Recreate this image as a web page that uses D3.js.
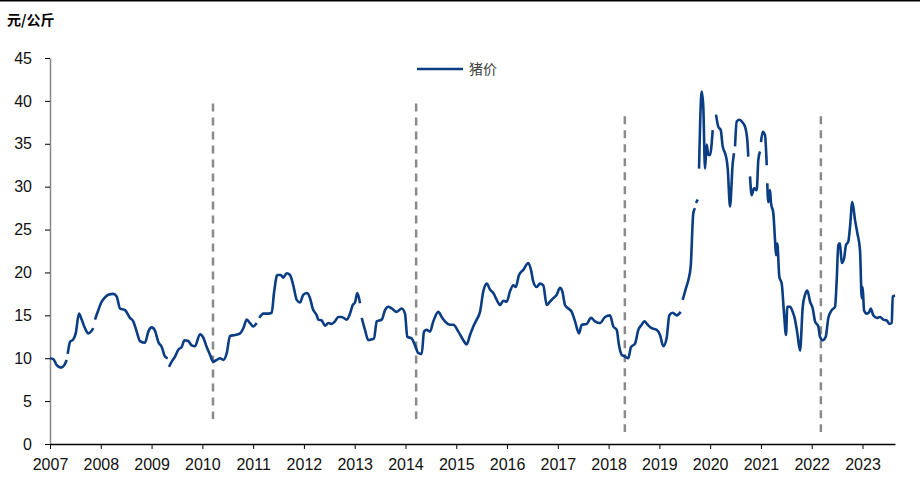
<!DOCTYPE html>
<html>
<head>
<meta charset="utf-8">
<script src="https://cdn.jsdelivr.net/npm/d3@7"></script>
<style>
  body { margin: 0; background: #fff; }
  svg { display: block; font-family: "Liberation Sans", Arial, sans-serif; }
</style>
</head>
<body>
<div id="chart"></div>
<script>
const dates = [
  2007.000, 2007.065, 2007.132, 2007.217, 2007.282, 2007.329, 2007.339, 2007.349, 2007.394, 2007.459,
  2007.506, 2007.571, 2007.624, 2007.689, 2007.754, 2007.807, 2007.853, 2007.870, 2007.886, 2007.951,
  2008.018, 2008.069, 2008.148, 2008.247, 2008.313, 2008.378, 2008.477, 2008.575, 2008.640, 2008.707,
  2008.772, 2008.871, 2008.936, 2009.003, 2009.068, 2009.133, 2009.200, 2009.265, 2009.318, 2009.330,
  2009.343, 2009.397, 2009.462, 2009.527, 2009.594, 2009.645, 2009.723, 2009.790, 2009.855, 2009.954,
  2010.019, 2010.086, 2010.151, 2010.216, 2010.283, 2010.348, 2010.413, 2010.480, 2010.545, 2010.643,
  2010.742, 2010.807, 2010.874, 2010.939, 2011.003, 2011.070, 2011.096, 2011.122, 2011.200, 2011.299,
  2011.366, 2011.411, 2011.476, 2011.543, 2011.594, 2011.661, 2011.726, 2011.791, 2011.858, 2011.923,
  2011.988, 2012.067, 2012.120, 2012.173, 2012.252, 2012.284, 2012.350, 2012.415, 2012.480, 2012.547,
  2012.612, 2012.677, 2012.744, 2012.843, 2012.908, 2012.961, 2013.006, 2013.052, 2013.105, 2013.120,
  2013.138, 2013.203, 2013.268, 2013.335, 2013.380, 2013.434, 2013.532, 2013.597, 2013.662, 2013.729,
  2013.827, 2013.926, 2013.991, 2014.036, 2014.123, 2014.188, 2014.253, 2014.320, 2014.365, 2014.418,
  2014.483, 2014.548, 2014.647, 2014.714, 2014.779, 2014.877, 2014.942, 2015.041, 2015.139, 2015.206,
  2015.271, 2015.336, 2015.403, 2015.468, 2015.533, 2015.600, 2015.665, 2015.730, 2015.797, 2015.862,
  2015.927, 2015.994, 2016.059, 2016.124, 2016.171, 2016.236, 2016.321, 2016.419, 2016.472, 2016.518,
  2016.584, 2016.649, 2016.714, 2016.781, 2016.846, 2016.911, 2016.978, 2017.043, 2017.089, 2017.142,
  2017.207, 2017.274, 2017.339, 2017.418, 2017.471, 2017.569, 2017.654, 2017.733, 2017.831, 2017.930,
  2018.028, 2018.093, 2018.160, 2018.205, 2018.258, 2018.323, 2018.388, 2018.441, 2018.520, 2018.585,
  2018.652, 2018.703, 2018.770, 2018.849, 2018.948, 2019.013, 2019.078, 2019.144, 2019.196, 2019.263,
  2019.341, 2019.420, 2019.440, 2019.459, 2019.525, 2019.570, 2019.617, 2019.668, 2019.702, 2019.712,
  2019.721, 2019.755, 2019.768, 2019.781, 2019.834, 2019.865, 2019.899, 2019.932, 2019.964, 2019.997,
  2020.050, 2020.083, 2020.115, 2020.160, 2020.208, 2020.247, 2020.293, 2020.326, 2020.346, 2020.391,
  2020.444, 2020.470, 2020.480, 2020.490, 2020.523, 2020.574, 2020.621, 2020.686, 2020.732, 2020.751,
  2020.768, 2020.785, 2020.818, 2020.864, 2020.917, 2020.948, 2020.982, 2020.992, 2021.001, 2021.035,
  2021.080, 2021.114, 2021.120, 2021.125, 2021.145, 2021.179, 2021.198, 2021.244, 2021.277, 2021.297,
  2021.322, 2021.362, 2021.409, 2021.455, 2021.494, 2021.519, 2021.573, 2021.626, 2021.671, 2021.717,
  2021.770, 2021.823, 2021.868, 2021.913, 2021.967, 2022.020, 2022.065, 2022.130, 2022.163, 2022.217,
  2022.276, 2022.327, 2022.394, 2022.459, 2022.492, 2022.524, 2022.557, 2022.591, 2022.636, 2022.675,
  2022.721, 2022.754, 2022.799, 2022.853, 2022.898, 2022.951, 2022.985, 2023.004, 2023.030, 2023.083,
  2023.134, 2023.162, 2023.213, 2023.280, 2023.345, 2023.410, 2023.477, 2023.529, 2023.576, 2023.595,
  2023.641
];

// 元/公斤, null = 断点
const prices = [
  10.0, 9.9, 9.2, 8.9, 9.2, 9.8, null, 10.5, 11.9, 12.2,
  12.9, 15.2, 14.5, 13.5, 12.9, 13.1, 13.5, null, 14.5, 15.6,
  16.6, 17.0, 17.4, 17.5, 17.2, 15.8, 15.6, 14.7, 14.3, 13.1,
  12.0, 11.8, 13.1, 13.6, 13.2, 11.9, 11.3, 10.2, 10.0, null,
  9.0, 9.6, 10.2, 11.0, 11.3, 12.1, 12.0, 11.5, 11.4, 12.8,
  12.4, 11.3, 10.4, 9.6, 9.8, 10.0, 9.8, 10.6, 12.6, 12.7,
  12.9, 13.5, 14.5, 14.1, 13.7, 14.1, null, 14.7, 15.2, 15.2,
  15.3, 17.6, 19.7, 19.7, 19.4, 19.9, 19.7, 18.5, 16.8, 16.5,
  17.4, 17.6, 17.0, 15.8, 15.0, 14.5, 14.4, 13.8, 14.1, 14.0,
  14.3, 14.8, 14.8, 14.5, 15.2, 16.2, 16.5, 17.6, 16.4, null,
  14.7, 13.3, 12.1, 12.2, 12.3, 14.3, 14.5, 15.6, 16.0, 15.8,
  15.4, 15.8, 15.2, 12.5, 12.3, 11.5, 10.6, 10.5, 13.1, 13.3,
  13.1, 14.3, 15.4, 14.8, 14.3, 13.9, 13.9, 13.1, 12.1, 11.6,
  12.7, 13.7, 14.5, 15.4, 17.8, 18.7, 18.0, 17.6, 16.8, 16.2,
  16.7, 16.6, 17.8, 18.5, 18.3, 19.7, 20.3, 21.1, 20.3, 18.9,
  18.3, 18.7, 18.5, 16.2, 16.6, 17.0, 17.4, 18.2, 17.8, 16.2,
  15.8, 15.4, 14.3, 12.9, 13.9, 14.0, 14.7, 14.3, 14.1, 14.8,
  15.0, 13.7, 13.3, 11.5, 10.4, 10.2, 10.0, 11.3, 11.7, 13.3,
  13.9, 14.3, 13.9, 13.5, 13.3, 12.7, 11.4, 12.4, 15.0, 15.3,
  15.0, 15.4, null, 16.8, 18.2, 19.1, 20.7, 26.9, 27.5, null,
  28.1, 28.5, null, 32.1, 41.1, 39.3, 32.1, 34.9, 33.7, 33.7,
  36.6, null, 38.4, 37.0, 36.6, 34.7, 33.9, 33.1, 32.1, 27.7,
  32.7, 33.9, null, 34.7, 37.6, 37.8, 37.6, 37.0, 35.4, 33.5,
  null, 31.2, 29.0, 29.8, 29.6, 33.1, 34.1, null, 35.2, 36.4,
  36.0, 32.5, null, 30.4, 28.2, 29.6, 28.1, 26.9, 23.8, 22.0,
  23.4, 19.5, 18.7, 15.2, 12.7, 16.0, 16.0, 15.4, 14.5, 12.9,
  10.9, 16.0, 17.4, 17.9, 16.6, 15.8, 14.3, 13.7, 12.5, 12.1,
  12.5, 14.7, 15.6, 16.0, 19.1, 23.2, 23.4, 21.1, 21.6, 23.2,
  23.6, 25.3, 28.2, 26.1, 24.6, 22.6, 17.0, 18.3, 15.6, 15.2,
  15.4, 15.8, 15.0, 14.7, 14.8, 14.5, 14.4, 14.0, 14.1, 17.2,
  17.3
];

const yearTicks = [2007, 2008, 2009, 2010, 2011, 2012, 2013, 2014, 2015, 2016, 2017, 2018, 2019, 2020, 2021, 2022, 2023];
const yTicks = [0, 5, 10, 15, 20, 25, 30, 35, 40, 45];

// 竖虚线
const markDates = [2010.21, 2014.21, 2018.32, 2022.18];
const markTop = [39.7, 39.7, 38.2, 38.2];
const markBottom = [2.9, 2.9, 1.4, 1.4];

const W = 920, H = 495;
const svg = d3.select('#chart').append('svg')
  .attr('width', W)
  .attr('height', H);

const x = d3.scaleLinear().domain([2007, 2023.64]).range([50, 895]);
const y = d3.scaleLinear().domain([0, 45]).range([444, 58]);

// top border
svg.append('line')
  .attr('x1', 0).attr('x2', W)
  .attr('y1', 0.75).attr('y2', 0.75)
  .attr('stroke', '#000')
  .attr('stroke-width', 1.5);

svg.append('text')
  .attr('x', 7)
  .attr('y', 25)
  .style('font-family', '"Noto Sans CJK SC", sans-serif')
  .style('font-size', '14px')
  .style('font-weight', 'bold')
  .attr('fill', '#000')
  .text('元/公斤');

const yAxis = svg.append('g')
  .attr('transform', `translate(${x(2007)},0)`)
  .call(d3.axisLeft(y).tickValues(yTicks).tickSize(5).tickSizeOuter(0).tickPadding(13));
yAxis.select('.domain').attr('stroke', '#868686').attr('stroke-width', 1.5);
yAxis.selectAll('.tick line').attr('stroke', '#000');
yAxis.selectAll('text')
  .style('font-size', '16px')
  .style('font-family', '"Liberation Sans", Arial, sans-serif')
  .attr('fill', '#111');

const xAxis = svg.append('g')
  .attr('transform', `translate(0,${y(0)})`)
  .call(d3.axisBottom(x).tickValues(yearTicks).tickFormat(d3.format('d')).tickSize(5).tickSizeOuter(0).tickPadding(10));
xAxis.select('.domain').attr('stroke', '#000').attr('stroke-width', 1.5);
xAxis.selectAll('.tick line').attr('stroke', '#000');
xAxis.selectAll('text')
  .style('font-size', '16px')
  .style('font-family', '"Liberation Sans", Arial, sans-serif')
  .attr('fill', '#111');

svg.selectAll('.mark')
  .data(markDates)
  .enter().append('line')
  .attr('class', 'mark')
  .attr('x1', d => x(d)).attr('x2', d => x(d))
  .attr('y1', (d, i) => y(markTop[i]))
  .attr('y2', (d, i) => y(markBottom[i]))
  .attr('stroke', '#8a8a8a')
  .attr('stroke-width', 2.5)
  .attr('stroke-dasharray', '8,6');

const series = dates.map((d, i) => ({ date: d, price: prices[i] }));

const line = d3.line()
  .defined(d => d.price !== null)
  .x(d => x(d.date))
  .y(d => y(d.price))
  .curve(d3.curveMonotoneX);

svg.append('path')
  .datum(series)
  .attr('fill', 'none')
  .attr('stroke', '#0a3d83')
  .attr('stroke-width', 2.6)
  .attr('stroke-linejoin', 'round')
  .attr('d', line);

// legend
const legend = svg.append('g').attr('transform', 'translate(417,69)');
legend.append('line')
  .attr('x1', 0).attr('x2', 46)
  .attr('stroke', '#0a3d83')
  .attr('stroke-width', 2.6);
legend.append('text')
  .attr('x', 52)
  .attr('dy', '0.35em')
  .style('font-family', '"Noto Sans CJK SC", sans-serif')
  .style('font-size', '14px')
  .attr('fill', '#404040')
  .text('猪价');
</script>
</body>
</html>
